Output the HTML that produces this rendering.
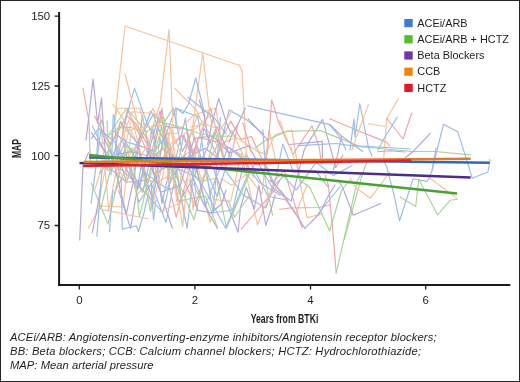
<!DOCTYPE html>
<html><head><meta charset="utf-8"><style>
html,body{margin:0;padding:0;background:#fff;}
body{width:520px;height:382px;overflow:hidden;}
svg{display:block;will-change:transform;}
text{font-family:"Liberation Sans",sans-serif;fill:#1e1e1e;}
</style></head><body>
<svg width="520" height="382" viewBox="0 0 520 382">
<rect x="0" y="0" width="520" height="382" fill="#fff"/>
<g fill="none" stroke-linejoin="round" stroke-linecap="round">
<path d="M108.0 166.7 L126.2 182.2 L149.9 179.8 L166.0 222.7 L183.9 134.6 L196.1 171.9 L203.9 128.2 L221.4 164.6 L242.9 194.8 L265.9 207.9 L274.9 182.3 L282.8 144.0 L293.4 171.9 L315.9 171.1 L328.4 187.3" stroke="#9bbce6" stroke-width="1.15"/>
<path d="M88.2 228.3 L101.4 206.0 L123.1 207.0 L131.1 130.7 L138.1 145.6 L152.1 209.1 L170.8 127.5 L184.4 219.2" stroke="#f5c29a" stroke-width="1.15"/>
<path d="M115.3 132.6 L122.5 140.0 L138.8 202.2 L161.1 169.4 L180.2 161.9 L197.7 152.1 L205.2 148.2 L224.8 163.2" stroke="#b4a6da" stroke-width="1.15"/>
<path d="M104.1 150.0 L116.5 164.9 L140.0 186.8 L162.8 212.7 L185.4 118.4 L195.3 189.3 L209.7 213.3 L232.7 210.0 L246.0 153.4 L267.9 196.2 L287.8 200.3" stroke="#9bbce6" stroke-width="1.15"/>
<path d="M103.2 143.2 L126.6 108.2 L146.9 132.1 L163.8 117.0 L170.8 162.9 L194.0 219.8 L215.0 132.1 L224.3 161.0" stroke="#a7d596" stroke-width="1.15"/>
<path d="M95.2 188.6 L102.7 163.2 L121.2 121.1 L136.8 195.4 L148.7 180.4 L168.1 132.1 L176.7 201.5 L188.4 133.6 L210.3 222.7 L221.7 178.5 L231.6 185.4 L246.9 174.2 L261.9 194.1 L268.9 130.4 L276.3 162.9 L295.9 160.8 L307.0 217.6 L322.5 214.0" stroke="#f5c29a" stroke-width="1.15"/>
<path d="M118.4 155.0 L127.3 109.8 L150.8 159.0 L163.5 148.2 L174.5 160.1 L195.2 205.7 L208.8 160.7 L230.9 121.4 L241.1 139.4 L251.5 136.5 L272.5 182.5 L284.3 170.7 L302.1 228.0" stroke="#f0a5a7" stroke-width="1.15"/>
<path d="M118.2 151.1 L129.9 168.1 L140.1 186.5 L152.7 127.1 L161.9 203.7 L172.9 154.3 L187.1 228.3 L196.5 147.4 L217.2 196.6 L231.0 149.2 L245.6 160.9" stroke="#9bbce6" stroke-width="1.15"/>
<path d="M118.7 190.2 L130.5 228.3 L141.5 164.1 L152.8 200.5 L165.0 126.4 L186.2 129.0 L207.1 210.9 L217.4 228.3" stroke="#b4a6da" stroke-width="1.15"/>
<path d="M115.6 176.0 L135.1 147.0 L152.9 108.2 L176.7 161.2 L193.8 148.8 L201.2 180.1 L221.3 147.1 L231.8 130.3 L253.4 177.4" stroke="#f5c29a" stroke-width="1.15"/>
<path d="M91.4 138.3 L98.6 128.3 L115.0 142.0 L126.4 182.3 L150.5 111.4 L163.2 124.0 L173.2 108.2 L182.4 151.6 L192.4 130.9 L204.6 168.8 L216.6 161.5 L229.0 110.1 L246.1 119.4 L263.2 134.1" stroke="#9bbce6" stroke-width="1.15"/>
<path d="M117.4 180.4 L131.8 117.8 L147.2 180.0 L156.3 182.0 L166.0 177.6 L182.4 160.1 L197.6 114.7 L217.0 145.3 L236.4 137.5 L258.1 151.9 L265.5 153.9 L275.4 134.5 L291.7 130.0 L300.8 183.8" stroke="#f5c29a" stroke-width="1.15"/>
<path d="M116.7 153.3 L138.0 188.8 L160.1 111.1 L179.0 202.5 L194.6 175.2 L217.0 126.7 L230.1 156.5" stroke="#b4a6da" stroke-width="1.15"/>
<path d="M92.4 125.9 L101.1 144.1 L111.9 167.4 L120.1 122.0 L137.3 143.1 L153.0 114.8 L161.0 134.5" stroke="#9bbce6" stroke-width="1.15"/>
<path d="M91.4 183.2 L108.0 224.1 L125.6 146.0 L139.3 153.7 L150.6 211.8 L161.4 125.6 L170.3 180.9 L177.7 157.2 L200.4 181.3 L216.5 178.3 L226.5 228.3 L250.3 172.2 L264.1 174.0 L272.5 215.2" stroke="#a7d596" stroke-width="1.15"/>
<path d="M112.7 160.3 L132.1 150.8 L144.9 134.9 L157.4 175.4 L170.6 143.8 L190.9 129.1 L213.5 199.4 L230.7 201.5 L241.4 153.0 L257.5 225.0 L273.8 182.9 L295.5 214.5 L307.2 184.5" stroke="#f5c29a" stroke-width="1.15"/>
<path d="M114.3 193.6 L137.7 144.7 L147.8 183.2 L162.1 108.2 L169.2 186.3 L176.2 217.2 L198.4 137.5 L219.8 142.6 L240.1 154.3" stroke="#f0a5a7" stroke-width="1.15"/>
<path d="M118.5 148.3 L142.7 192.5 L157.4 127.4 L179.4 169.4 L195.0 176.2 L202.3 185.2 L225.6 228.3 L246.2 178.3 L254.5 164.3 L265.0 163.4 L274.8 185.1 L283.6 175.9 L296.2 190.1 L316.1 162.5 L333.4 175.6 L352.1 165.6" stroke="#9bbce6" stroke-width="1.15"/>
<path d="M111.2 155.7 L131.5 151.6 L146.5 155.5 L160.6 192.2 L180.3 185.6 L194.1 138.4 L212.7 136.0 L229.7 153.0 L248.5 145.9 L272.1 187.5 L291.2 201.1 L304.4 149.2 L322.6 119.4 L335.7 167.7 L342.9 155.2" stroke="#b4a6da" stroke-width="1.15"/>
<path d="M99.9 114.1 L108.8 210.9 L116.9 166.6 L125.7 182.5 L134.2 168.7 L152.6 134.9 L176.7 133.2 L193.9 114.7 L215.9 108.2 L225.1 166.6" stroke="#f5c29a" stroke-width="1.15"/>
<path d="M100.0 173.1 L123.3 138.2 L143.8 172.0 L167.0 188.7 L184.3 155.2 L204.8 206.9 L228.2 146.8 L241.6 158.2 L258.8 182.1 L280.2 195.3" stroke="#9bbce6" stroke-width="1.15"/>
<path d="M100.4 157.6 L108.9 170.9 L132.3 111.7 L156.0 113.8 L171.3 130.0 L193.6 185.3" stroke="#f5c29a" stroke-width="1.15"/>
<path d="M109.3 145.4 L126.3 214.3 L134.4 175.9 L142.4 115.5 L152.4 167.5 L172.3 228.3" stroke="#b4a6da" stroke-width="1.15"/>
<path d="M91.1 203.3 L100.9 130.0 L114.6 162.8 L125.7 142.0 L138.0 145.1 L154.6 151.1 L164.8 137.2 L175.8 108.2 L197.8 116.7 L213.1 213.3 L220.4 117.5" stroke="#9bbce6" stroke-width="1.15"/>
<path d="M100.7 208.7 L110.2 171.0 L131.9 148.1 L139.4 216.7 L159.0 136.2 L182.0 200.1 L205.6 196.0 L217.7 228.3" stroke="#a7d596" stroke-width="1.15"/>
<path d="M96.4 213.5 L117.3 108.2 L139.8 108.2 L160.0 186.8 L170.6 144.0" stroke="#f5c29a" stroke-width="1.15"/>
<path d="M94.6 116.4 L110.6 144.9 L126.9 115.9 L135.6 123.4 L158.0 164.0 L181.5 135.1 L192.6 153.5 L210.5 108.2 L223.6 157.7" stroke="#f0a5a7" stroke-width="1.15"/>
<path d="M114.0 125.0 L115.8 110.0 L125.0 26.0 L235.3 64.0 L239.4 65.0 L242.0 70.8 L244.8 122.0 L246.0 150.0 L247.0 175.0" stroke="#f5c29a" stroke-width="1.15"/>
<path d="M150.0 135.0 L153.5 124.2 L160.2 104.0 L169.0 29.4 L172.8 124.0 L173.5 150.0" stroke="#f5c29a" stroke-width="1.15"/>
<path d="M192.0 130.0 L193.5 121.5 L202.7 53.0 L209.3 110.0 L212.0 125.0" stroke="#f5c29a" stroke-width="1.15"/>
<path d="M124.0 128.0 L125.8 118.7 L134.5 88.4 L147.4 124.4 L153.5 135.0 L156.0 142.0" stroke="#9bbce6" stroke-width="1.15"/>
<path d="M125.0 74.0 L137.4 121.5 L140.0 135.0" stroke="#f5c29a" stroke-width="1.15"/>
<path d="M174.8 88.4 L196.4 110.0 L200.0 118.0" stroke="#f5c29a" stroke-width="1.15"/>
<path d="M175.7 127.0 L176.3 108.0 L183.0 113.5 L188.5 104.0 L195.8 77.8 L203.6 110.0 L206.0 125.0" stroke="#9bbce6" stroke-width="1.15"/>
<path d="M187.7 97.0 L215.0 118.7 L222.5 129.0 L226.0 134.0" stroke="#9bbce6" stroke-width="1.15"/>
<path d="M207.7 144.4 L211.7 124.2 L218.8 98.5 L226.5 123.0 L231.2 133.6" stroke="#b4a6da" stroke-width="1.15"/>
<path d="M82.9 88.0 L89.0 121.7 L89.8 146.8 L91.0 165.0" stroke="#f0a5a7" stroke-width="1.15"/>
<path d="M86.0 140.0 L88.5 120.0 L93.1 79.1 L97.6 123.3 L101.5 98.1 L103.1 121.7 L105.5 154.7 L107.0 170.0" stroke="#b4a6da" stroke-width="1.15"/>
<path d="M91.3 132.7 L101.5 146.8 L106.0 152.0" stroke="#b4a6da" stroke-width="1.15"/>
<path d="M96.8 154.7 L98.4 126.4 L101.5 120.1 L104.0 128.0" stroke="#9bbce6" stroke-width="1.15"/>
<path d="M107.0 120.9 L108.6 153.0 L110.0 170.0" stroke="#a7d596" stroke-width="1.15"/>
<path d="M113.3 114.6 L111.8 154.7 L111.0 175.0" stroke="#9bbce6" stroke-width="1.15"/>
<path d="M114.1 115.4 L117.2 154.7 L118.0 170.0" stroke="#9bbce6" stroke-width="1.15"/>
<path d="M113.0 104.4 L125.1 121.7 L128.0 130.0" stroke="#f5c29a" stroke-width="1.15"/>
<path d="M110.0 135.0 L118.0 128.0 L129.8 127.2 L137.7 129.5 L145.0 135.0" stroke="#a7d596" stroke-width="1.15"/>
<path d="M125.1 131.1 L137.7 128.0 L145.0 132.0" stroke="#f5c29a" stroke-width="1.15"/>
<path d="M247.5 105.8 L329.6 124.6 L340.4 138.0 L346.0 150.0" stroke="#9bbce6" stroke-width="1.15"/>
<path d="M266.0 160.0 L267.7 150.0 L271.7 99.8 L278.5 122.0 L287.9 143.5 L292.0 150.0" stroke="#f0a5a7" stroke-width="1.15"/>
<path d="M279.8 120.6 L290.6 148.9 L294.0 158.0" stroke="#f5c29a" stroke-width="1.15"/>
<path d="M255.0 148.0 L265.0 140.8 L286.5 131.4 L320.2 130.5 L332.3 135.4 L360.8 146.7 L412.0 151.5 L435.7 151.5 L466.8 154.6 L470.5 154.6" stroke="#a7d596" stroke-width="1.15"/>
<path d="M293.1 154.0 L312.0 125.7 L319.3 147.7 L321.4 164.4" stroke="#f0a5a7" stroke-width="1.15"/>
<path d="M329.6 118.7 L356.5 130.0 L385.8 141.9 L390.0 146.0" stroke="#f0a5a7" stroke-width="1.15"/>
<path d="M350.0 150.0 L354.0 118.8 L355.0 137.0 L359.8 103.5 L368.5 147.7 L372.0 156.0" stroke="#9bbce6" stroke-width="1.15"/>
<path d="M352.0 150.0 L358.8 130.4 L368.5 104.4" stroke="#f5c29a" stroke-width="1.15"/>
<path d="M368.5 123.7 L384.8 126.5" stroke="#f5c29a" stroke-width="1.15"/>
<path d="M398.3 98.7 L386.7 118.8 L383.8 157.3" stroke="#f5c29a" stroke-width="1.15"/>
<path d="M386.7 118.5 L403.0 139.0 L411.7 113.0" stroke="#f0a5a7" stroke-width="1.15"/>
<path d="M397.3 117.0 L382.0 142.0 L378.0 150.0" stroke="#9bbce6" stroke-width="1.15"/>
<path d="M430.2 133.5 L412.7 151.8 L405.0 158.0" stroke="#b4a6da" stroke-width="1.15"/>
<path d="M432.0 170.0 L443.5 124.3 L457.7 131.7 L465.0 154.6 L472.2 178.2 L487.9 172.0 L490.0 160.5 L489.5 159.4" stroke="#9bbce6" stroke-width="1.15"/>
<path d="M436.0 148.0 L432.4 169.9 L427.2 181.4 L413.0 179.0 L399.6 220.8 L393.7 193.6 L386.6 166.5 L383.0 160.0" stroke="#9bbce6" stroke-width="1.15"/>
<path d="M344.2 239.6 L361.8 176.0 L367.7 159.4" stroke="#a7d596" stroke-width="1.15"/>
<path d="M400.0 197.0 L415.7 206.5 L418.8 179.3 L437.7 214.9 L450.2 200.2 L457.5 199.2" stroke="#a7d596" stroke-width="1.15"/>
<path d="M428.0 176.5 L431.4 179.3 L456.5 198.0" stroke="#f5c29a" stroke-width="1.15"/>
<path d="M330.0 124.6 L341.5 136.0 L362.7 151.5" stroke="#b4a6da" stroke-width="1.15"/>
<path d="M341.5 136.0 L336.7 159.0 L333.0 170.0" stroke="#b4a6da" stroke-width="1.15"/>
<path d="M88.5 152.4 L83.0 166.0 L79.7 240.0" stroke="#b4a6da" stroke-width="1.15"/>
<path d="M92.3 232.7 L98.0 203.8 L101.0 185.0" stroke="#b4a6da" stroke-width="1.15"/>
<path d="M96.9 236.2 L100.4 190.0 L102.0 170.0" stroke="#9bbce6" stroke-width="1.15"/>
<path d="M109.6 231.5 L110.8 213.0 L113.0 190.0" stroke="#9bbce6" stroke-width="1.15"/>
<path d="M121.2 180.0 L122.3 229.2 L136.2 225.8 L138.5 231.5 L144.2 212.0 L148.0 195.0" stroke="#9bbce6" stroke-width="1.15"/>
<path d="M102.7 209.6 L147.7 218.8" stroke="#f5c29a" stroke-width="1.15"/>
<path d="M151.2 185.0 L153.5 220.0 L156.0 200.0" stroke="#9bbce6" stroke-width="1.15"/>
<path d="M159.2 212.0 L175.4 205.0 L185.0 200.0" stroke="#f5c29a" stroke-width="1.15"/>
<path d="M172.0 175.0 L174.6 185.0 L180.4 212.7 L182.7 226.5 L186.2 189.6 L188.0 178.0" stroke="#f5c29a" stroke-width="1.15"/>
<path d="M190.0 180.0 L193.1 210.4 L196.0 190.0" stroke="#f5c29a" stroke-width="1.15"/>
<path d="M190.0 180.0 L194.2 197.7 L197.7 210.4 L211.5 212.7 L221.9 203.5 L226.0 190.0" stroke="#b4a6da" stroke-width="1.15"/>
<path d="M214.0 170.0 L219.6 185.0 L232.3 217.3 L238.1 232.3 L240.4 208.0 L246.2 187.3 L254.2 209.2 L258.9 185.0 L265.8 225.4 L271.5 208.0 L275.0 195.0" stroke="#b4a6da" stroke-width="1.15"/>
<path d="M241.5 228.8 L275.0 189.6 L280.0 180.0" stroke="#f0a5a7" stroke-width="1.15"/>
<path d="M279.6 209.2 L290.0 208.0 L319.2 207.5 L330.0 205.0" stroke="#f0a5a7" stroke-width="1.15"/>
<path d="M228.0 200.0 L234.6 217.3 L243.9 203.5 L250.0 195.0" stroke="#a7d596" stroke-width="1.15"/>
<path d="M270.0 180.0 L282.6 193.0 L304.8 228.4 L319.2 214.0 L328.4 195.7 L335.0 185.0" stroke="#b4a6da" stroke-width="1.15"/>
<path d="M300.0 180.0 L310.0 187.8 L329.7 231.0 L341.5 190.5 L350.0 180.0" stroke="#a7d596" stroke-width="1.15"/>
<path d="M325.0 175.0 L328.4 185.2 L333.6 240.2 L336.2 272.9" stroke="#f0a5a7" stroke-width="1.15"/>
<path d="M336.2 272.9 L357.2 181.3 L362.0 172.0" stroke="#a7d596" stroke-width="1.15"/>
<path d="M338.0 180.0 L342.8 187.8 L353.2 215.3 L380.7 203.5" stroke="#b4a6da" stroke-width="1.15"/>
<path d="M350.0 178.0 L355.9 187.8 L370.2 198.3 L382.0 182.6 L390.0 172.0" stroke="#f5c29a" stroke-width="1.15"/>
<path d="M340.2 186.5 L318.0 214.0" stroke="#9bbce6" stroke-width="1.15"/>
<path d="M160.0 122.0 L166.9 123.6 L184.4 128.3 L197.9 133.0 L210.0 135.7 L222.5 136.3 L235.0 136.0" stroke="#a7d596" stroke-width="1.15"/>
<path d="M191.1 132.3 L204.6 120.2 L210.0 116.0" stroke="#f5c29a" stroke-width="1.15"/>
<path d="M199.2 100.0 L204.6 117.5 L207.3 135.0 L209.0 142.0" stroke="#b4a6da" stroke-width="1.15"/>
<path d="M245.4 108.1 L238.6 122.9 L231.9 135.0 L229.0 142.0" stroke="#b4a6da" stroke-width="1.15"/>
<path d="M248.1 118.8 L262.9 135.0 L268.3 140.4" stroke="#b4a6da" stroke-width="1.15"/>
<path d="M238.0 123.6 L232.6 150.0 L230.0 160.0" stroke="#f0a5a7" stroke-width="1.15"/>
<path d="M242.7 122.9 L249.4 144.4 L251.0 152.0" stroke="#f0a5a7" stroke-width="1.15"/>
<path d="M231.9 110.8 L223.8 124.2 L219.0 132.0" stroke="#f5c29a" stroke-width="1.15"/>
<path d="M262.9 129.6 L264.2 150.0 L265.0 160.0" stroke="#9bbce6" stroke-width="1.15"/>
<path d="M190.0 127.0 L205.0 124.2 L218.5 128.9" stroke="#f5c29a" stroke-width="1.15"/>
<path d="M140.0 128.3 L153.5 126.2 L160.0 127.0" stroke="#f5c29a" stroke-width="1.15"/>
<path d="M298.4 145.6 L336.0 143.5 L350.7 145.6 L369.5 146.6 L390.0 147.7 L410.0 149.0" stroke="#9bbce6" stroke-width="1.15"/>
<path d="M290.0 144.5 L322.4 141.4 L322.4 158.1" stroke="#b4a6da" stroke-width="1.15"/>
<path d="M377.9 151.8 L390.0 150.8 L405.0 152.0" stroke="#b4a6da" stroke-width="1.15"/>
</g>
<g stroke-width="2.5" stroke-linecap="butt" fill="none">
<line x1="89" y1="157.5" x2="489.6" y2="162.7" stroke="#3366b6"/>
<line x1="89.2" y1="154.9" x2="457" y2="193.5" stroke="#48a232"/>
<line x1="79.5" y1="162.9" x2="470.7" y2="177.5" stroke="#4c2d8a"/>
<line x1="83.8" y1="162.1" x2="470.7" y2="158.7" stroke="#e37a26"/>
<line x1="83.2" y1="166.1" x2="411.3" y2="160.4" stroke="#db2228"/>
</g>
<g stroke="#1a1a1a" fill="none">
<line x1="59.1" y1="12" x2="59.1" y2="285.9" stroke-width="2"/>
<line x1="58.1" y1="284.9" x2="510.3" y2="284.9" stroke-width="2"/>
<path d="M54.6 16.2H59M54.6 86H59M54.6 155.7H59M54.6 225.5H59" stroke-width="1.3"/>
<path d="M79.3 285V289.6M194.9 285V289.6M310.5 285V289.6M425.7 285V289.6" stroke-width="1.3"/>
</g>
<g font-size="11.4" text-anchor="end">
<text x="50.2" y="20">150</text>
<text x="50.2" y="89.8">125</text>
<text x="50.2" y="159.5">100</text>
<text x="50.2" y="229.3">75</text>
</g>
<g font-size="11.4" text-anchor="middle">
<text x="79.3" y="304">0</text>
<text x="194.9" y="304">2</text>
<text x="310.5" y="304">4</text>
<text x="425.7" y="304">6</text>
</g>
<text font-size="13.6" font-weight="bold" text-anchor="middle" transform="translate(284.5 322.5) scale(0.64 1)">Years from BTKi</text>
<text font-size="13.6" font-weight="bold" text-anchor="middle" transform="translate(21.4 148.5) rotate(-90) scale(0.63 1)">MAP</text>
<g>
<rect x="404.3" y="19" width="8.4" height="8.2" fill="#3c7dcc"/>
<rect x="404.3" y="35.2" width="8.4" height="8.2" fill="#55be28"/>
<rect x="404.3" y="51.4" width="8.4" height="8.2" fill="#6e37aa"/>
<rect x="404.3" y="67.6" width="8.4" height="8.2" fill="#f5820a"/>
<rect x="404.3" y="83.8" width="8.4" height="8.2" fill="#e11923"/>
</g>
<g font-size="10.9">
<text x="417.3" y="26.8">ACEi/ARB</text>
<text x="417.3" y="43">ACEi/ARB + HCTZ</text>
<text x="417.3" y="59.2">Beta Blockers</text>
<text x="417.3" y="75.4">CCB</text>
<text x="417.3" y="91.6">HCTZ</text>
</g>
<g font-size="11.2" font-style="italic">
<text x="10" y="340.5" textLength="426.5" lengthAdjust="spacing">ACEi/ARB: Angiotensin-converting-enzyme inhibitors/Angiotensin receptor blockers;</text>
<text x="10" y="354.7" textLength="411" lengthAdjust="spacing">BB: Beta blockers; CCB: Calcium channel blockers; HCTZ: Hydrochlorothiazide;</text>
<text x="10" y="368.9" textLength="143.5" lengthAdjust="spacing">MAP: Mean arterial pressure</text>
</g>
<rect x="0.5" y="0.5" width="519" height="381" fill="none" stroke="#262626" stroke-width="1"/>
</svg>
</body></html>
